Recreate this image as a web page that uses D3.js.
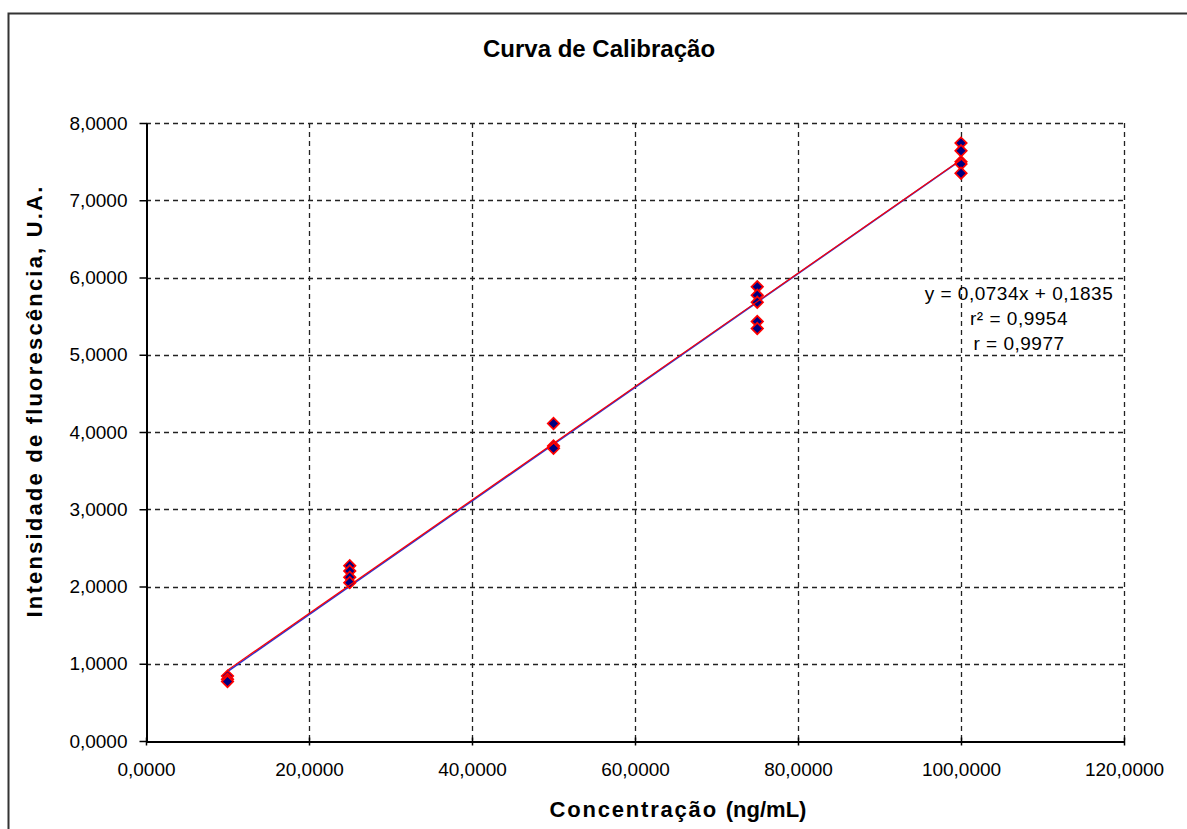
<!DOCTYPE html>
<html>
<head>
<meta charset="utf-8">
<script src="https://cdn.jsdelivr.net/npm/d3@7"></script>
<style>
body{margin:0;background:#fff;}
svg text{font-family:"Liberation Sans",Arial,sans-serif;fill:#000;}
</style>
</head>
<body>
<script>
// data (x in ng/mL, y in U.A.)
const concentrations=[10,25,50,75,100]
const intensities=[
  [0.84,0.80,0.77],
  [2.27,2.20,2.12,2.05],
  [4.11,3.82,3.79],
  [5.88,5.77,5.68,5.43,5.34],
  [7.74,7.64,7.50,7.47,7.35]
]
const xTicks=[0,20,40,60,80,100,120]
const yTicks=[0,1,2,3,4,5,6,7,8]
const slope=0.0734
const intercept=0.1835
const blueLineX=[10,100]
const blueLineY=[0.90,7.52]
const eqLabels=["y = 0,0734x + 0,1835","r² = 0,9954","r = 0,9977"]

const W=1187,H=829
const m={left:146,right:1124,top:123,bottom:741}

const locale=d3.formatLocale({decimal:",",thousands:".",grouping:[3],currency:["",""]})
const fmt=locale.format(".4f")

const x=d3.scaleLinear().domain([0,120]).range([m.left,m.right])
const y=d3.scaleLinear().domain([0,8]).range([m.bottom,m.top])

const svg=d3.select("body").append("svg")
  .attr("width",W).attr("height",H)

//chart border
svg.append("path")
  .attr("d","M8.5,"+H+" L8.5,13.5 L"+W+",13.5")
  .attr("fill","none").attr("stroke","#333").attr("stroke-width",2)

//grid
svg.append("g").selectAll("line")
  .data(yTicks.filter(d=>d>0))
  .enter().append("line")
  .attr("x1",m.left).attr("x2",m.right)
  .attr("y1",d=>Math.round(y(d))+0.5).attr("y2",d=>Math.round(y(d))+0.5)
  .attr("stroke","#222").attr("stroke-width",1.3).attr("stroke-dasharray","5,4")
svg.append("g").selectAll("line")
  .data(xTicks.filter(d=>d>0))
  .enter().append("line")
  .attr("y1",m.top).attr("y2",m.bottom)
  .attr("x1",d=>Math.round(x(d))+0.5).attr("x2",d=>Math.round(x(d))+0.5)
  .attr("stroke","#222").attr("stroke-width",1.3).attr("stroke-dasharray","5,4")

//axes
const xAxis=svg.append("g")
  .attr("transform","translate(0,"+(m.bottom+0.5)+")")
  .call(d3.axisBottom(x).tickValues(xTicks).tickFormat(fmt).tickSizeInner(4).tickSizeOuter(0).tickPadding(17))
xAxis.selectAll(".tick line").attr("y1",-4)
const yAxis=svg.append("g")
  .attr("transform","translate("+(m.left+0.5)+",0)")
  .call(d3.axisLeft(y).tickValues(yTicks).tickFormat(fmt).tickSizeInner(7).tickSizeOuter(0).tickPadding(12))
svg.selectAll(".domain").attr("stroke","#000").attr("stroke-width",2)
svg.selectAll(".tick line").attr("stroke","#000").attr("stroke-width",1.5)
svg.selectAll(".tick text").style("font-size","19px").attr("fill","#000")

//blue line
const line=d3.line().x(d=>x(d[0])).y(d=>y(d[1]))
svg.append("path")
  .datum(blueLineX.map((d,i)=>[d,blueLineY[i]]))
  .attr("d",line).attr("fill","none").attr("stroke","#3333cc").attr("stroke-width",1.6)

//points
const pts=[]
concentrations.forEach((c,i)=>intensities[i].forEach(v=>pts.push([c,v])))
svg.append("g").selectAll("path")
  .data(pts).enter().append("path")
  .attr("transform",d=>"translate("+x(d[0])+","+y(d[1])+") rotate(45)")
  .attr("d",d3.symbol().type(d3.symbolSquare).size(66))
  .attr("fill","#000080").attr("stroke","#ff0000").attr("stroke-width",1.7)

//trendline
const tx=d3.extent(concentrations)
svg.append("path")
  .datum(tx.map(d=>[d,slope*d+intercept]))
  .attr("d",line).attr("fill","none").attr("stroke","#ff0000").attr("stroke-width",1.2)

//equation
svg.append("g").selectAll("text")
  .data(eqLabels).enter().append("text")
  .attr("x",1019).attr("y",(d,i)=>300+i*25)
  .attr("text-anchor","middle")
  .style("font-size","19px").style("letter-spacing","0.5px")
  .text(d=>d)

//titles
svg.append("text").attr("x",599).attr("y",57)
  .attr("text-anchor","middle").style("font-size","24px").style("font-weight","bold")
  .text("Curva de Calibração")
const xt=svg.append("text").attr("x",678).attr("y",817)
  .attr("text-anchor","middle").style("font-size","22px").style("font-weight","bold")
xt.append("tspan").style("letter-spacing","1.8px").text("Concentração ")
xt.append("tspan").text("(ng/mL)")
svg.append("text")
  .attr("transform","translate(42,401) rotate(-90)")
  .attr("text-anchor","middle").style("font-size","22px").style("font-weight","bold")
  .style("letter-spacing","2.2px")
  .text("Intensidade de fluorescência, U.A.")
</script>
</body>
</html>
